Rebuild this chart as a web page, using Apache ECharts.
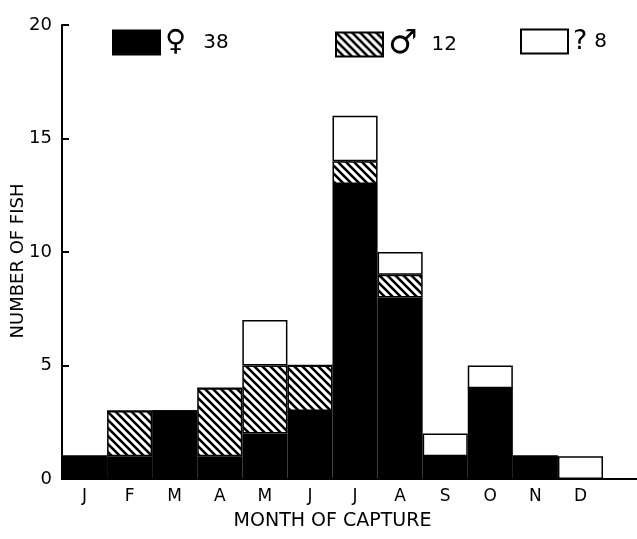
<!DOCTYPE html>
<html>
<head>
<meta charset="utf-8">
<script src="https://cdn.jsdelivr.net/npm/echarts@6/dist/echarts.min.js"></script>
<style>
* { margin: 0; padding: 0; }
body { background: #fff; }
</style>
</head>
<body>
<div id="main" style="width:637px;height:539px;background:white;"></div>
<script>
// months of capture
var months = ["J", "F", "M", "A", "M", "J", "J", "A", "S", "O", "N", "D"];
// number of fish per month, by sex
var female = [1, 1, 3, 1, 2, 3, 13, 8, 1, 4, 1, 0];
var male = [0, 2, 0, 3, 3, 2, 1, 1, 0, 0, 0, 0];
var unknown = [0, 0, 0, 0, 2, 0, 2, 1, 1, 1, 0, 1];
var yTicks = [0, 5, 10, 15, 20];

function sum(arr) {
  return arr.reduce(function (a, b) { return a + b; }, 0);
}

// diagonal hatch for the male bars
function hatch() {
  var s = 8;
  var c = document.createElement("canvas");
  c.width = s;
  c.height = s;
  var ctx = c.getContext("2d");
  ctx.fillStyle = "#fff";
  ctx.fillRect(0, 0, s, s);
  ctx.strokeStyle = "#000";
  ctx.lineWidth = 2.6;
  ctx.beginPath();
  ctx.moveTo(-1, -1); ctx.lineTo(s + 1, s + 1);
  ctx.moveTo(-2, s - 2); ctx.lineTo(2, s + 2);
  ctx.moveTo(s - 2, -2); ctx.lineTo(s + 2, 2);
  ctx.stroke();
  return c;
}

var font = "DejaVu Sans";
var chart = echarts.init(document.getElementById("main"));

function legendFor(name, sym, symSize, gap, total, left) {
  return {
    data: [{ name: name, icon: "rect" }],
    left: left,
    top: 23,
    itemWidth: 47,
    itemHeight: 24,
    itemGap: 0,
    selectedMode: false,
    formatter: function () { return "{s|" + sym + "}{n|" + total + "}"; },
    textStyle: {
      rich: {
        s: { fontFamily: font, fontSize: symSize, color: "#000", padding: [0, gap, 0, 0] },
        n: { fontFamily: font, fontSize: 20, color: "#000" }
      }
    }
  };
}

chart.setOption({
  animation: false,
  textStyle: { fontFamily: font, color: "#000" },
  legend: [
    legendFor("female", "♀", 29, 17, sum(female), 107),
    legendFor("male", "♂", 33, 14, sum(male), 330),
    legendFor("unknown", "?", 27, 7, sum(unknown), 515)
  ],
  grid: { left: 62, right: 34, top: 25, bottom: 60, outerBoundsMode: "none", containLabel: false },
  xAxis: {
    type: "category",
    data: months,
    name: "MONTH OF CAPTURE",
    nameLocation: "middle",
    nameGap: 33,
    nameTextStyle: { fontSize: 19, color: "#000" },
    axisLine: { lineStyle: { color: "#000", width: 2 } },
    axisTick: { alignWithLabel: false, length: 6, lineStyle: { width: 2, color: "#000" } },
    axisLabel: { fontSize: 17, color: "#000", margin: 9 }
  },
  yAxis: {
    type: "value",
    min: 0,
    max: 20,
    interval: 5,
    name: "NUMBER OF FISH",
    nameLocation: "middle",
    nameGap: 35,
    nameMoveOverlap: false,
    nameTextStyle: { fontSize: 18, color: "#000", padding: [0, 18, 0, 0] },
    splitLine: { show: false },
    axisLine: { show: true, lineStyle: { color: "#000", width: 2 } },
    axisTick: { show: true, inside: true, length: 7, lineStyle: { width: 2, color: "#000" } },
    axisLabel: {
      fontSize: 18, color: "#000", margin: 10,
      formatter: function (v) { return yTicks.indexOf(v) >= 0 ? String(v) : ""; }
    }
  },
  graphic: [{
    type: "line",
    shape: { x1: 603, y1: 479, x2: 637, y2: 479 },
    style: { stroke: "#000", lineWidth: 2 }
  }],
  series: [
    {
      name: "female", type: "bar", stack: "n", data: female,
      barCategoryGap: 0,
      itemStyle: { color: "#000", borderColor: "#000", borderWidth: 1.5 }
    },
    {
      name: "male", type: "bar", stack: "n", data: male,
      itemStyle: { color: { image: hatch(), repeat: "repeat" }, borderColor: "#000", borderWidth: 1.5 }
    },
    {
      name: "unknown", type: "bar", stack: "n", data: unknown,
      itemStyle: { color: "#fff", borderColor: "#000", borderWidth: 1.5 }
    }
  ]
});
</script>
</body>
</html>
